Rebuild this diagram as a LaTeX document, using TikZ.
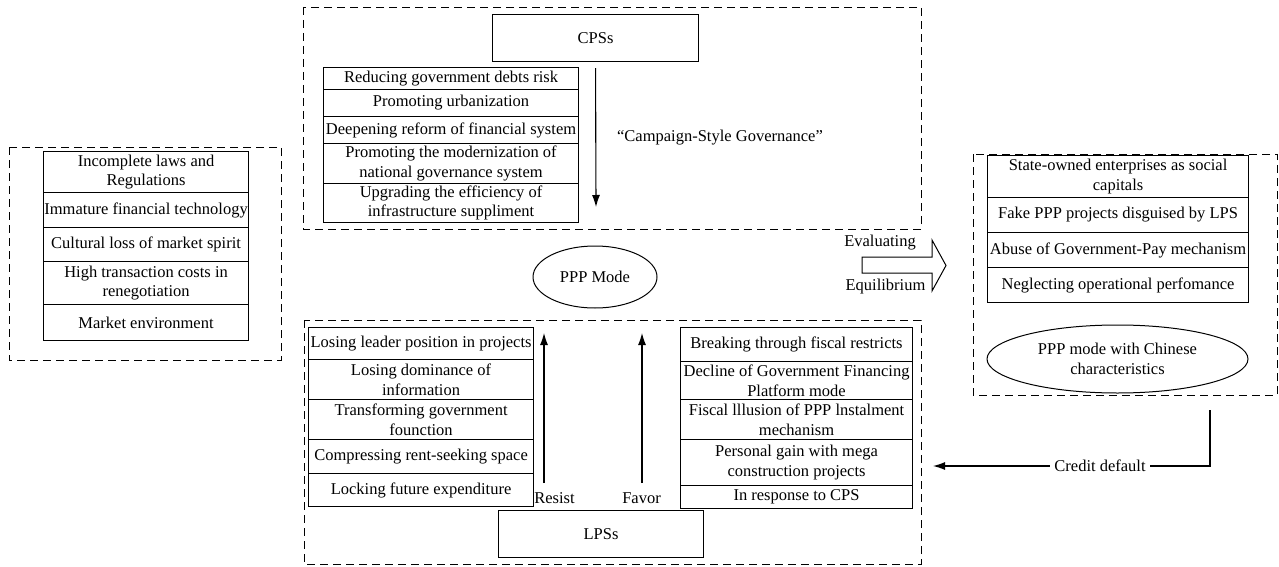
\documentclass[tikz,border=0pt]{standalone}
\usepackage{fontspec}
\setmainfont{Liberation Serif}
\usetikzlibrary{arrows.meta,shapes.geometric}
\begin{document}
\begin{tikzpicture}[x=1pt,y=-1pt,
  every node/.style={font=\fontsize{16.5}{19.5}\selectfont},
  cell/.style={draw,line width=1.1pt,inner sep=0pt,align=center,anchor=north west},
  frame/.style={draw,line width=0.9pt,dash pattern=on 8pt off 5pt},
  oval/.style={draw,ellipse,line width=1pt,inner sep=0pt,align=center},
  conn/.style={line width=1.1pt,-{Latex[length=12pt,width=8pt]}},
  lbl/.style={inner sep=1pt}]
\useasboundingbox (0,0) rectangle (1279,567);
% dashed frames
\draw[frame] (303,7) rectangle (921,229);
\draw[frame] (9,147) rectangle (281,360);
\draw[frame] (973,154) rectangle (1277,395);
\draw[frame] (304,320) rectangle (921,564);
% CPS
\node[cell,minimum width=206pt,minimum height=47pt] (cps) at (492,14) {CPSs};
\node[cell,minimum width=255pt,minimum height=22pt] (c1) at (323,67) {Reducing government debts risk};
\node[cell,minimum width=255pt,minimum height=27pt] (c2) at (323,89) {Promoting urbanization};
\node[cell,minimum width=255pt,minimum height=27pt] (c3) at (323,116) {Deepening reform of financial system};
\node[cell,minimum width=255pt,minimum height=40pt] (c4) at (323,143) {Promoting the modernization of\\national governance system};
\node[cell,minimum width=255pt,minimum height=39pt] (c5) at (323,183) {Upgrading the efficiency of\\infrastructure suppliment};
\coordinate (cpsend) at (596,207);
\draw[conn] ([yshift=-6pt]cps.south) -- (cpsend);
\node[lbl] (csg) at (720,138) {“Campaign-Style Governance”};
% left list
\node[cell,minimum width=205pt,minimum height=41pt] (l1) at (43,151) {Incomplete laws and\\Regulations};
\node[cell,minimum width=205pt,minimum height=35pt] (l2) at (43,192) {Immature financial technology};
\node[cell,minimum width=205pt,minimum height=34pt] (l3) at (43,227) {Cultural loss of market spirit};
\node[cell,minimum width=205pt,minimum height=43pt] (l4) at (43,261) {High transaction costs in\\renegotiation};
\node[cell,minimum width=205pt,minimum height=36pt] (l5) at (43,304) {Market environment};
% PPP mode
\node[oval,minimum width=124pt,minimum height=62pt] (ppp) at (595,277) {PPP Mode};
% right list
\node[cell,minimum width=261pt,minimum height=42pt] (r1) at (987,155) {State-owned enterprises as social\\capitals};
\node[cell,minimum width=261pt,minimum height=35pt] (r2) at (987,197) {Fake PPP projects disguised by LPS};
\node[cell,minimum width=261pt,minimum height=35pt] (r3) at (987,232) {Abuse of Government-Pay mechanism};
\node[cell,minimum width=261pt,minimum height=35pt] (r4) at (987,267) {Neglecting operational perfomance};
\node[oval,minimum width=261pt,minimum height=68pt] (pppc) at (1117.5,359) {PPP mode with Chinese\\characteristics};
% fat arrow
\draw[line width=1pt] (862,257) -- (932,257) -- (932,240) -- (946,265.5) -- (932,291) -- (932,273) -- (862,273) -- cycle;
\node[lbl] (eval) at (880,243) {Evaluating};
\node[lbl] (equi) at (885.5,287) {Equilibrium};
% resist list
\node[cell,minimum width=225pt,minimum height=32pt] (s1) at (308,327) {Losing leader position in projects};
\node[cell,minimum width=225pt,minimum height=40pt] (s2) at (308,359) {Losing dominance of\\information};
\node[cell,minimum width=225pt,minimum height=40pt] (s3) at (308,399) {Transforming government\\founction};
\node[cell,minimum width=225pt,minimum height=34pt] (s4) at (308,439) {Compressing rent-seeking space};
\node[cell,minimum width=225pt,minimum height=33pt] (s5) at (308,473) {Locking future expenditure};
% favor list
\node[cell,minimum width=232pt,minimum height=34pt] (f1) at (680,327) {Breaking through fiscal restricts};
\node[cell,minimum width=232pt,minimum height=38pt] (f2) at (680,361) {Decline of Government Financing\\Platform mode};
\node[cell,minimum width=232pt,minimum height=40pt] (f3) at (680,399) {Fiscal lllusion of PPP lnstalment\\mechanism};
\node[cell,minimum width=232pt,minimum height=46pt] (f4) at (680,439) {Personal gain with mega\\construction projects};
\node[cell,minimum width=232pt,minimum height=23pt] (f5) at (680,485) {In response to CPS};
% LPS
\node[cell,minimum width=205pt,minimum height=47pt] (lps) at (498,510) {LPSs};
\coordinate (rs0) at (544,483);
\coordinate (rs1) at (544,333);
\coordinate (fv0) at (642,483);
\coordinate (fv1) at (642,333);
\draw[conn] (rs0) -- (rs1);
\draw[conn] (fv0) -- (fv1);
\node[lbl] (resist) at (554.5,498) {Resist};
\node[lbl] (favor) at (641.5,498) {Favor};
% credit default
\coordinate (cd0) at (1210,410);
\coordinate (cd1) at (1210,466);
\coordinate (cd2) at (933,466);
\draw[conn] (cd0) -- (cd1) -- (cd2);
\node[lbl,fill=white,inner xsep=4pt] (cdl) at (1100,466) {Credit default};
\end{tikzpicture}
\end{document}
